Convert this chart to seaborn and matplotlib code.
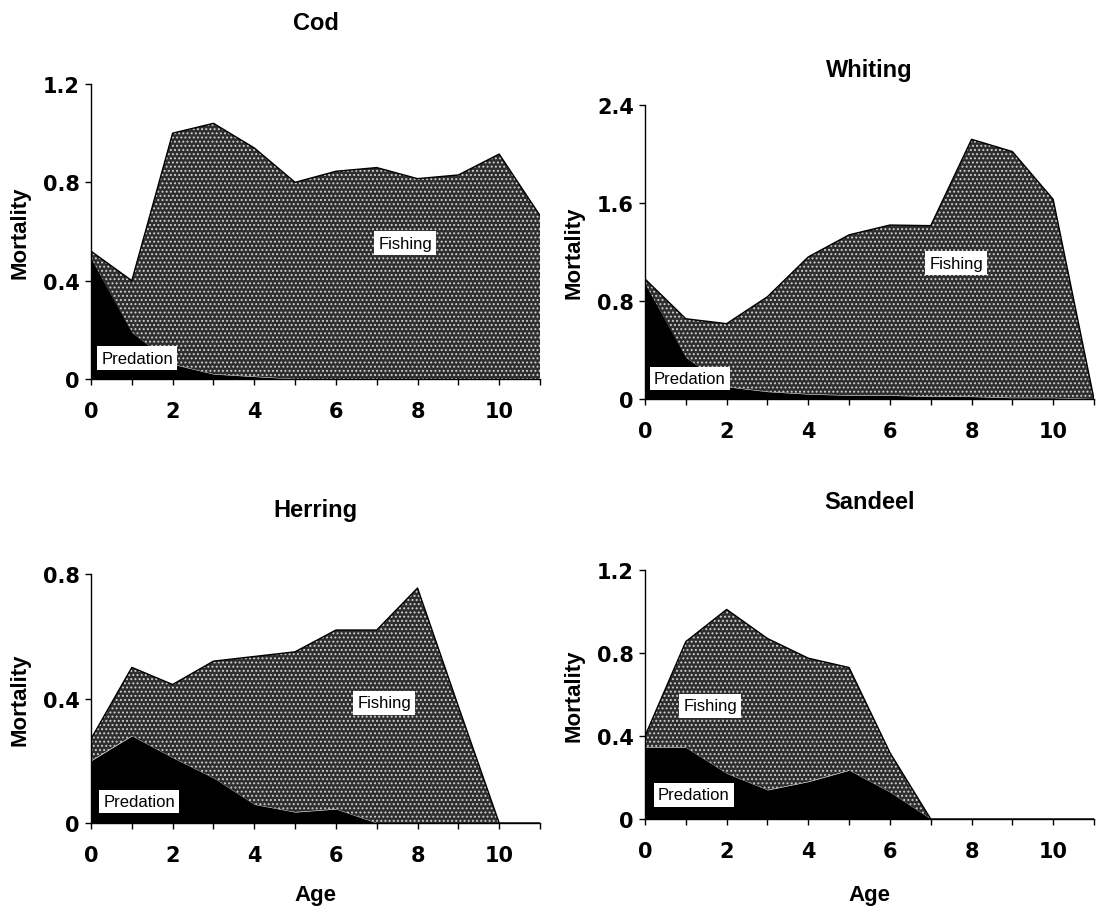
import matplotlib
matplotlib.use("Agg")
import matplotlib.pyplot as plt
import seaborn as sns
import pandas as pd

# --- данные ---
ages = list(range(12))

cod_total = [0.52, 0.40, 1.00, 1.04, 0.94, 0.80, 0.845, 0.86, 0.815, 0.83, 0.915, 0.665]
cod_pred = [0.49, 0.19, 0.06, 0.02, 0.01, 0.0, 0.0, 0.0, 0.0, 0.0, 0.0, 0.0]

whiting_total = [0.98, 0.655, 0.615, 0.835, 1.16, 1.34, 1.42, 1.415, 2.12, 2.02, 1.63, 0.0]
whiting_pred = [0.94, 0.34, 0.10, 0.06, 0.04, 0.03, 0.03, 0.02, 0.02, 0.01, 0.01, 0.0]

herring_total = [0.27, 0.50, 0.445, 0.52, 0.535, 0.55, 0.62, 0.62, 0.755, 0.375, 0.0, 0.0]
herring_pred = [0.20, 0.28, 0.21, 0.145, 0.06, 0.035, 0.045, 0.0, 0.0, 0.0, 0.0, 0.0]

sandeel_total = [0.40, 0.855, 1.01, 0.87, 0.775, 0.73, 0.32, 0.0, 0.0, 0.0, 0.0, 0.0]
sandeel_pred = [0.345, 0.345, 0.22, 0.14, 0.18, 0.235, 0.13, 0.0, 0.0, 0.0, 0.0, 0.0]

cod_yticks = [0, 0.4, 0.8, 1.2]
cod_ylabels = ["0", "0.4", "0.8", "1.2"]
whiting_yticks = [0, 0.8, 1.6, 2.4]
whiting_ylabels = ["0", "0.8", "1.6", "2.4"]
herring_yticks = [0, 0.4, 0.8]
herring_ylabels = ["0", "0.4", "0.8"]
sandeel_yticks = [0, 0.4, 0.8, 1.2]
sandeel_ylabels = ["0", "0.4", "0.8", "1.2"]

xtick_labels = [str(a) if a % 2 == 0 else "" for a in ages]

sns.set_theme(style="ticks")
plt.rcParams["font.family"] = ["Liberation Sans", "DejaVu Sans"]
plt.rcParams["text.color"] = "black"
plt.rcParams["axes.labelcolor"] = "black"
plt.rcParams["hatch.color"] = "#d0d0d0"
plt.rcParams["hatch.linewidth"] = 0.9

W, H = 1101, 912
fig = plt.figure(figsize=(W / 100, H / 100), dpi=100)


def px_axes(left, top, right, bottom):
    return fig.add_axes([left / W, 1 - bottom / H, (right - left) / W, (bottom - top) / H])


panels = [
    # name, axes box (px), total, predation, yticks, ylabels, predation label pos, fishing label pos, title y, show Age
    ("Cod", (91, 85, 540, 380), cod_total, cod_pred, cod_yticks, cod_ylabels, (1.13, 0.085), (7.7, 0.553), 23, False),
    ("Whiting", (645, 106, 1094, 400), whiting_total, whiting_pred, whiting_yticks, whiting_ylabels, (1.1, 0.17), (7.62, 1.11), 70, False),
    ("Herring", (91, 575, 540, 824), herring_total, herring_pred, herring_yticks, herring_ylabels, (1.18, 0.07), (7.18, 0.386), 510, True),
    ("Sandeel", (645, 571, 1094, 820), sandeel_total, sandeel_pred, sandeel_yticks, sandeel_ylabels, (1.2, 0.116), (1.6, 0.545), 503, True),
]

for name, box, total, pred, yt, yl, pred_pos, fish_pos, title_y, show_age in panels:
    left, top, right, bottom = box
    ax = px_axes(left, top, right, bottom)
    df = pd.DataFrame({"age": ages, "total": total, "pred": pred})

    # рыболовство (точечный растр) и хищничество (чёрный)
    ax.fill_between(df["age"], df["pred"], df["total"], facecolor="#2e2e2e",
                    edgecolor="#d0d0d0", hatch="....", linewidth=0)
    ax.fill_between(df["age"], 0, df["pred"], facecolor="black", linewidth=0)
    sns.lineplot(data=df, x="age", y="total", ax=ax, color="black", linewidth=1.0)

    ax.set_xlim(0, 11)
    ax.set_ylim(0, yt[-1])
    ax.set_xticks(ages)
    ax.set_xticklabels(xtick_labels)
    ax.set_yticks(yt)
    ax.set_yticklabels(yl)
    ax.tick_params(axis="x", direction="out", length=4, width=1, pad=12,
                   labelsize=15, colors="black")
    ax.tick_params(axis="y", direction="out", length=4, width=1, pad=4,
                   labelsize=15, colors="black")
    for lab in ax.get_xticklabels() + ax.get_yticklabels():
        lab.set_fontweight("bold")
        lab.set_family(["DejaVu Sans"])
    sns.despine(ax=ax)
    for s in ["left", "bottom"]:
        ax.spines[s].set_linewidth(1.0)
        ax.spines[s].set_color("black")

    ax.set_ylabel("Mortality", fontsize=16, fontweight="bold", color="black")
    ax.yaxis.set_label_coords(-0.135, 0.5)
    if show_age:
        ax.set_xlabel("Age", fontsize=16, fontweight="bold", color="black")
        ax.xaxis.set_label_coords(0.5, -(885 - bottom) / (bottom - top))
    else:
        ax.set_xlabel("")

    bbox = dict(boxstyle="square,pad=0.25", facecolor="white", edgecolor="none")
    ax.text(pred_pos[0], pred_pos[1], "Predation", fontsize=12, ha="center",
            va="center", color="black", bbox=bbox)
    ax.text(fish_pos[0], fish_pos[1], "Fishing", fontsize=12, ha="center",
            va="center", color="black", bbox=bbox)

    fig.text((left + right) / 2 / W, 1 - title_y / H, name, fontsize=17,
             fontweight="bold", ha="center", va="center", color="black")

fig.savefig("out.png", dpi=100)
